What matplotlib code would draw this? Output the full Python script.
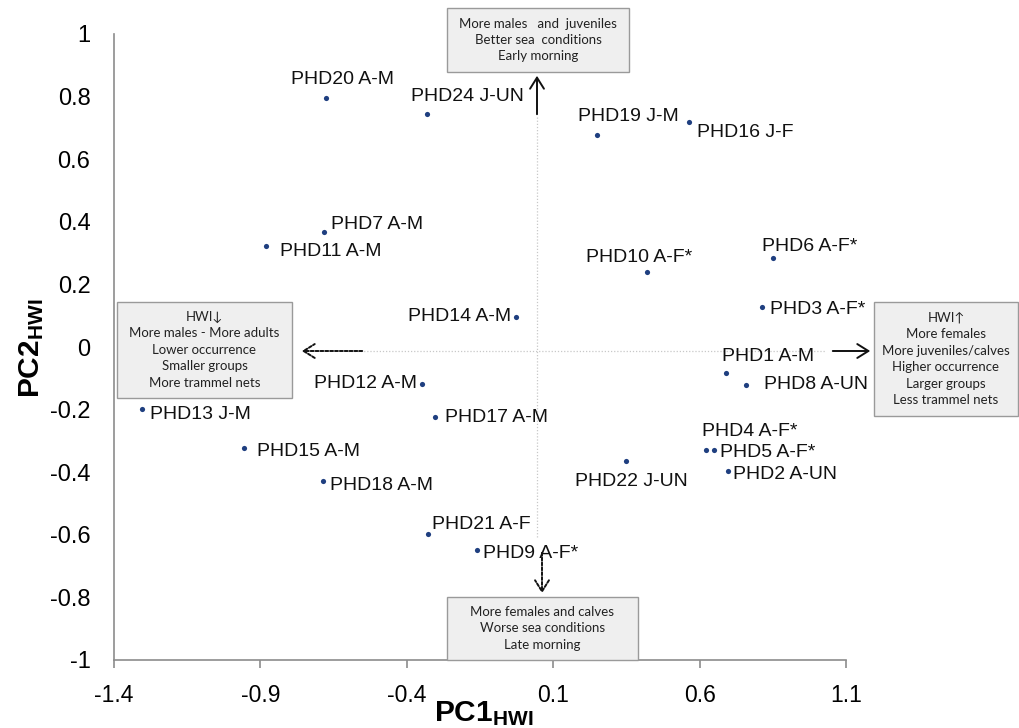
import matplotlib
matplotlib.use("Agg")
import matplotlib.pyplot as plt

# ---------------- data ----------------
labels = ["PHD1 A-M", "PHD2 A-UN", "PHD3 A-F*", "PHD4 A-F*", "PHD5 A-F*", "PHD6 A-F*",
          "PHD7 A-M", "PHD8 A-UN", "PHD9 A-F*", "PHD10 A-F*", "PHD11 A-M", "PHD12 A-M",
          "PHD13 J-M", "PHD14 A-M", "PHD15 A-M", "PHD16 J-F", "PHD17 A-M", "PHD18 A-M",
          "PHD19 J-M", "PHD20 A-M", "PHD21 A-F", "PHD22 J-UN", "PHD24 J-UN"]
pc1 = [0.690, 0.697, 0.813, 0.622, 0.649, 0.851, -0.682, 0.759, -0.159, 0.421, -0.880, -0.347,
       -1.306, -0.026, -0.955, 0.564, -0.303, -0.685, 0.250, -0.675, -0.327, 0.349, -0.330]
pc2 = [-0.083, -0.396, 0.128, -0.329, -0.329, 0.284, 0.367, -0.121, -0.649, 0.240, 0.323, -0.118,
       -0.198, 0.096, -0.323, 0.719, -0.224, -0.428, 0.677, 0.796, -0.597, -0.364, 0.744]
xticks = [-1.4, -0.9, -0.4, 0.1, 0.6, 1.1]
yticks = [-1, -0.8, -0.6, -0.4, -0.2, 0, 0.2, 0.4, 0.6, 0.8, 1]
ytick_labels = ["-1", "-0.8", "-0.6", "-0.4", "-0.2", "0", "0.2", "0.4", "0.6", "0.8", "1"]

box_top = ["More males   and  juveniles", "Better sea  conditions", "Early morning"]
box_bottom = ["More females and calves", "Worse sea conditions", "Late morning"]
box_left = ["HWI\u2193", "More males - More adults", "Lower occurrence", "Smaller groups",
            "More trammel nets"]
box_right = ["HWI\u2191", "More females", "More juveniles/calves", "Higher occurrence",
             "Larger groups", "Less trammel nets"]

# label placement (pixel offsets from the point, alignment)
label_style = {
    "PHD1 A-M": (42, 16, "center"), "PHD2 A-UN": (5, -4, "left"),
    "PHD3 A-F*": (8, -3, "left"), "PHD4 A-F*": (44, 18, "center"),
    "PHD5 A-F*": (6, -3, "left"), "PHD6 A-F*": (37, 12, "center"),
    "PHD7 A-M": (7, 8, "left"), "PHD8 A-UN": (18, 0, "left"),
    "PHD9 A-F*": (6, -3, "left"), "PHD10 A-F*": (-8, 14, "center"),
    "PHD11 A-M": (14, -6, "left"), "PHD12 A-M": (-5, 0, "right"),
    "PHD13 J-M": (8, -6, "left"), "PHD14 A-M": (-5, 0, "right"),
    "PHD15 A-M": (13, -3, "left"), "PHD16 J-F": (8, -11, "left"),
    "PHD17 A-M": (10, 0, "left"), "PHD18 A-M": (7, -5, "left"),
    "PHD19 J-M": (31, 19, "center"), "PHD20 A-M": (16, 18, "center"),
    "PHD21 A-F": (4, 9, "left"), "PHD22 J-UN": (5, -21, "center"),
    "PHD24 J-UN": (40, 18, "center"),
}

W, H = 1019, 728
fig = plt.figure(figsize=(W / 100, H / 100), dpi=100)

def fx(px):
    return px / W

def fy(py):
    return 1 - py / H

ax_l, ax_r, ax_t, ax_b = 114, 846, 34, 660
ax = fig.add_axes([fx(ax_l), fy(ax_b), (ax_r - ax_l) / W, (ax_b - ax_t) / H])
ax.set_xlim(-1.4, 1.1)
ax.set_ylim(-1, 1)
for s in ["top", "right"]:
    ax.spines[s].set_visible(False)
for s in ["left", "bottom"]:
    ax.spines[s].set_color("#8c8c8c")
    ax.spines[s].set_linewidth(1.2)
ax.set_xticks(xticks)
ax.set_xticklabels([f"{v:g}" for v in xticks], fontfamily="Liberation Sans", fontsize=16.5)
ax.set_yticks(yticks)
ax.set_yticklabels(ytick_labels, fontfamily="Liberation Sans", fontsize=17)
ax.tick_params(axis="x", length=6, width=1.2, color="#8c8c8c", pad=11)
ax.tick_params(axis="y", length=0, pad=17)
ax.patch.set_alpha(0)

# reference lines (dotted light grey)
ax.plot([0.045, 0.045], [0.735, -0.61], color="#c8c8c8", lw=0.9, ls=(0, (1, 1.5)), zorder=1)
ax.plot([-0.6, 1.03], [-0.012, -0.012], color="#c8c8c8", lw=0.9, ls=(0, (1, 1.5)), zorder=1)

# points
ax.scatter(pc1, pc2, s=14, color="#1f3f80", zorder=3, linewidths=0)
for name, xv, yv in zip(labels, pc1, pc2):
    dx, dy, ha = label_style[name]
    ax.annotate(name, (xv, yv), xytext=(dx * 0.72, dy * 0.72), textcoords="offset points",
                ha=ha, va="center", fontsize=14, fontfamily="Liberation Sans", color="#111111")

# axis titles
plt.rcParams["mathtext.fontset"] = "custom"
plt.rcParams["mathtext.rm"] = "Liberation Sans"
plt.rcParams["mathtext.bf"] = "Liberation Sans:bold"
fig.text(fx(484), fy(714), r"$\mathbf{PC1_{HWI}}$", ha="center", va="center", fontsize=21.5)
fig.text(fx(31), fy(348), r"$\mathbf{PC2_{HWI}}$", ha="center", va="center", fontsize=21.5,
         rotation=90)

# text boxes
def box(x0, y0, x1, y1, lines, fs=9.5, spacing=16.5):
    rect = plt.Rectangle((fx(x0), fy(y1)), (x1 - x0) / W, (y1 - y0) / H,
                         transform=fig.transFigure, facecolor="#efefef",
                         edgecolor="#9a9a9a", lw=1.0, zorder=5)
    fig.add_artist(rect)
    n = len(lines)
    cy = (y0 + y1) / 2
    cx = (x0 + x1) / 2
    for i, t in enumerate(lines):
        yy = cy + (i - (n - 1) / 2) * spacing
        fig.text(fx(cx), fy(yy), t, ha="center", va="center", fontsize=fs,
                 fontfamily="Lato", color="#222222", zorder=6)

box(447, 8, 629, 72, box_top)
box(447, 597, 638, 660, box_bottom)
box(117, 302, 292, 398, box_left)
box(874, 302, 1018, 416, box_right)

# arrows
def arrow(x0, y0, x1, y1, ls="-"):
    fig.add_artist(matplotlib.patches.FancyArrowPatch(
        (fx(x0), fy(y0)), (fx(x1), fy(y1)), transform=fig.transFigure,
        arrowstyle="->,head_length=8,head_width=5", color="#111111", lw=1.4,
        linestyle=ls, mutation_scale=1, zorder=7))

arrow(537, 117, 537, 73)
arrow(542, 550, 542, 596, ls=(0, (1.5, 1)))
arrow(365, 351, 299, 351, ls=(0, (1.5, 1)))
arrow(830, 351, 873, 351)

fig.savefig("out.png", dpi=100)
